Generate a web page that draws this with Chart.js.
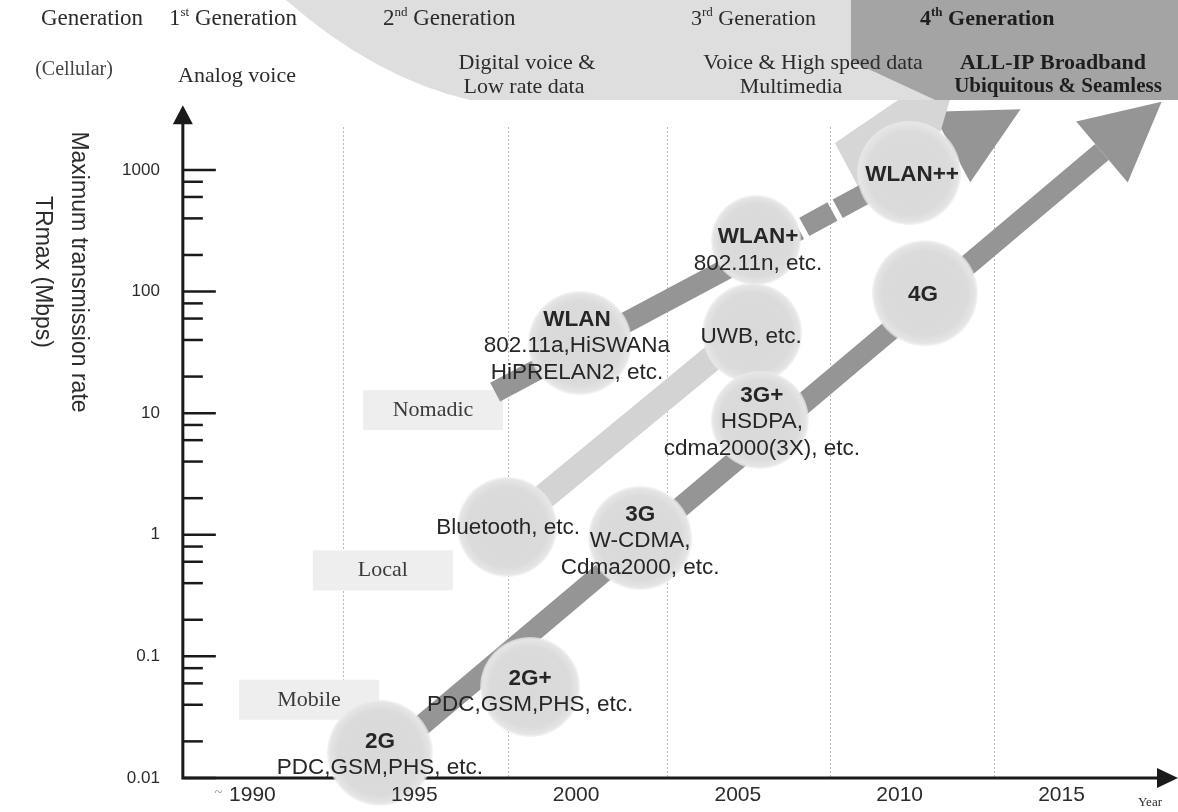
<!DOCTYPE html>
<html>
<head>
<meta charset="utf-8">
<title>TRmax vs year</title>
<script src="https://cdn.jsdelivr.net/npm/chart.js@4.4.1/dist/chart.umd.min.js"></script>
<style>
  html, body { margin: 0; padding: 0; background: #fff; }
  #wrap { position: relative; width: 1178px; height: 812px; }
  #chart { display: block; }
</style>
</head>
<body>
<div id="wrap"><canvas id="chart" width="1178" height="812"></canvas></div>
<script>
// ---- data: x = year, y = maximum transmission rate TRmax (Mbps) ----
const yearTicks = [1990, 1995, 2000, 2005, 2010, 2015];
const yearLabels = ['1990', '1995', '2000', '2005', '2010', '2015'];
const gridYears = [1992.8, 1997.9, 2002.8, 2007.85, 2012.9];
const rateTicks = [0.01, 0.1, 1, 10, 100, 1000];
const rateLabels = ['0.01', '0.1', '1', '10', '100', '1000'];
const minorSteps = [2, 4, 6, 8];

const systemNames = ['2G', '2G+', 'Bluetooth', '3G', 'WLAN', 'UWB', '3G+', 'WLAN+', '4G', 'WLAN++'];
const systemYears = [1993.94, 1998.58, 1997.87, 2001.98, 2000.12, 2005.44, 2005.68, 2005.56, 2010.78, 2010.29];
const systemRates = [0.0161, 0.056, 1.16, 0.94, 37.8, 45.7, 8.8, 265, 97, 944];
const systemLines = [
    ['2G', 'PDC,GSM,PHS, etc.'],
    ['2G+', 'PDC,GSM,PHS, etc.'],
    ['Bluetooth, etc.'],
    ['3G', 'W-CDMA,', 'Cdma2000, etc.'],
    ['WLAN', '802.11a,HiSWANa', 'HiPRELAN2, etc.'],
    ['UWB, etc.'],
    ['3G+', 'HSDPA,', 'cdma2000(3X), etc.'],
    ['WLAN+', '802.11n, etc.'],
    ['4G'],
    ['WLAN++']
];

const classNames = ['Nomadic', 'Local', 'Mobile'];
const classYears = [1995.58, 1994.03, 1991.75];
const classRates = [10.6, 0.51, 0.044];

// arrow shafts (start -> end of shaft)
const mobileYears = [1995.02, 2016.25];
const mobileRates = [0.0243, 1406];
const nomadicYears = [1997.50, 2005.56, 2011.59];
const nomadicRates = [14.9, 207, 1545];
const localYears = [1997.87, 2005.07];
const localRates = [1.16, 44];
const localHeadYears = [2008.0, 2009.95, 2011.55, 2010.63, 2008.77];
const localHeadRates = [1667, 3767, 3767, 566, 685];

const genNumbers = ['1', '2', '3', '4'];
const genSuffix = ['st', 'nd', 'rd', 'th'];
const serviceLines = [
    ['Analog voice'],
    ['Digital voice &', 'Low rate data'],
    ['Voice & High speed data', 'Multimedia'],
    ['ALL-IP Broadband', 'Ubiquitous & Seamless']
];

// ---- layout / style ----
const bubbleRadius = [53, 50, 50, 52, 52, 50, 49, 45, 53, 52];
const labelShift = [[0, 2], [0, 5], [1, 1], [0, 3], [-3, 3], [-1, 4], [2, 2], [2, 10], [-2, 2], [3, 2]];
const SANS = '"Liberation Sans", Arial, sans-serif';
const SERIF = '"Liberation Serif", "Times New Roman", serif';
const INK = '#2b2b2b';
const ARROW = '#959595';

const pts = (xs, ys) => xs.map((x, i) => ({ x, y: ys[i] }));

function px(chart, yr, rate) {
    return [chart.scales.x.getPixelForValue(yr), chart.scales.y.getPixelForValue(rate)];
}

function arrowHead(ctx, chart, years, rates, len, half) {
    const n = years.length;
    const [ax, ay] = px(chart, years[n - 2], rates[n - 2]);
    const [bx, by] = px(chart, years[n - 1], rates[n - 1]);
    const d = Math.hypot(bx - ax, by - ay);
    const ux = (bx - ax) / d, uy = (by - ay) / d;
    ctx.beginPath();
    ctx.moveTo(bx + ux * len, by + uy * len);
    ctx.lineTo(bx - uy * half, by + ux * half);
    ctx.lineTo(bx + uy * half, by - ux * half);
    ctx.closePath();
    ctx.fill();
}

function ordinal(ctx, num, suf, x, y, size, bold) {
    const w0 = bold ? 'bold ' : '';
    ctx.textAlign = 'left';
    ctx.font = `${w0}${size}px ${SERIF}`;
    ctx.fillText(num, x, y);
    let w = ctx.measureText(num).width;
    ctx.font = `${w0}${Math.round(size * 0.58)}px ${SERIF}`;
    ctx.fillText(suf, x + w, y - size * 0.3);
    w += ctx.measureText(suf).width;
    ctx.font = `${w0}${size}px ${SERIF}`;
    ctx.fillText(' Generation', x + w, y);
}

const diagram = {
    id: 'diagram',
    beforeDatasetsDraw(chart) {
        const { ctx } = chart;
        const { x, y } = chart.scales;
        ctx.save();
        ctx.textBaseline = 'middle';

        // header row labels
        ctx.fillStyle = INK;
        ctx.textAlign = 'center';
        ctx.font = `23px ${SERIF}`;
        ctx.fillText('Generation', 92, 19);
        ctx.fillStyle = '#444';
        ctx.font = `20px ${SERIF}`;
        ctx.fillText('(Cellular)', 74, 70);
        ctx.fillStyle = INK;
        ordinal(ctx, genNumbers[0], genSuffix[0], 169, 19, 23, false);

        // 2nd / 3rd generation band
        ctx.fillStyle = '#dedede';
        ctx.beginPath();
        ctx.moveTo(286, 0);
        ctx.lineTo(851, 0);
        ctx.lineTo(851, 61);
        ctx.lineTo(935, 100);
        ctx.lineTo(470, 100);
        ctx.quadraticCurveTo(375, 78, 286, 0);
        ctx.fill();
        // 4th generation band
        ctx.fillStyle = '#a4a4a4';
        ctx.beginPath();
        ctx.moveTo(851, 0);
        ctx.lineTo(1178, 0);
        ctx.lineTo(1178, 100);
        ctx.lineTo(935, 100);
        ctx.lineTo(851, 61);
        ctx.fill();

        ctx.fillStyle = INK;
        ordinal(ctx, genNumbers[1], genSuffix[1], 383, 19, 23, false);
        ordinal(ctx, genNumbers[2], genSuffix[2], 691, 19, 22, false);
        ctx.fillStyle = '#1e1e1e';
        ordinal(ctx, genNumbers[3], genSuffix[3], 920, 19, 22, true);

        ctx.fillStyle = INK;
        ctx.textAlign = 'center';
        ctx.font = `22px ${SERIF}`;
        ctx.fillText(serviceLines[0][0], 237, 76);
        ctx.fillText(serviceLines[1][0], 527, 63);
        ctx.fillText(serviceLines[1][1], 524, 87);
        ctx.fillText(serviceLines[2][0], 813, 63);
        ctx.fillText(serviceLines[2][1], 791, 87);
        ctx.fillStyle = '#1e1e1e';
        ctx.font = `bold 22px ${SERIF}`;
        ctx.fillText(serviceLines[3][0], 1053, 63);
        ctx.font = `bold 21px ${SERIF}`;
        ctx.fillText(serviceLines[3][1], 1058, 87);

        // dotted vertical grid
        const y0 = y.getPixelForValue(0.01);
        ctx.strokeStyle = '#b8b8b8';
        ctx.lineWidth = 1;
        ctx.setLineDash([2, 2]);
        gridYears.forEach(g => {
            const gx = Math.round(x.getPixelForValue(g)) + 0.5;
            ctx.beginPath();
            ctx.moveTo(gx, 127);
            ctx.lineTo(gx, y0);
            ctx.stroke();
        });
        ctx.setLineDash([]);

        // class boxes
        classNames.forEach((name, i) => {
            const [cx, cy] = px(chart, classYears[i], classRates[i]);
            ctx.fillStyle = '#eeeeee';
            ctx.fillRect(cx - 70, cy - 20, 140, 40);
            ctx.fillStyle = '#3a3a3a';
            ctx.textAlign = 'center';
            ctx.font = `22px ${SERIF}`;
            ctx.fillText(name, cx, cy);
        });

        // axes
        const ax = x.getPixelForValue(1987.85);
        const top = y.getPixelForValue(3400);
        const right = x.getPixelForValue(2018.6);
        ctx.strokeStyle = '#1a1a1a';
        ctx.fillStyle = '#1a1a1a';
        ctx.lineWidth = 3;
        ctx.beginPath();
        ctx.moveTo(ax, top + 12);
        ctx.lineTo(ax, y0);
        ctx.lineTo(right - 12, y0);
        ctx.stroke();
        ctx.beginPath();
        ctx.moveTo(ax, top);
        ctx.lineTo(ax - 10, top + 19);
        ctx.lineTo(ax + 10, top + 19);
        ctx.fill();
        ctx.beginPath();
        ctx.moveTo(right, y0);
        ctx.lineTo(right - 21, y0 - 10);
        ctx.lineTo(right - 21, y0 + 10);
        ctx.fill();

        // ticks, inside the axis
        ctx.lineWidth = 2.5;
        rateTicks.forEach((t, i) => {
            const ty = y.getPixelForValue(t);
            ctx.beginPath();
            ctx.moveTo(ax, ty);
            ctx.lineTo(ax + 33, ty);
            ctx.stroke();
            if (i < rateTicks.length - 1) {
                minorSteps.forEach(m => {
                    const my = y.getPixelForValue(t * m);
                    ctx.beginPath();
                    ctx.moveTo(ax, my);
                    ctx.lineTo(ax + 20, my);
                    ctx.stroke();
                });
            }
        });
        ctx.fillStyle = INK;
        ctx.textAlign = 'right';
        ctx.font = `17px ${SANS}`;
        rateLabels.forEach((l, i) => ctx.fillText(l, ax - 23, y.getPixelForValue(rateTicks[i])));

        // y axis titles
        ctx.textAlign = 'center';
        ctx.save();
        ctx.translate(78, 272);
        ctx.rotate(Math.PI / 2);
        ctx.font = `23px ${SANS}`;
        ctx.fillText('Maximum transmission rate', 0, 0);
        ctx.restore();
        ctx.save();
        ctx.translate(42, 272);
        ctx.rotate(Math.PI / 2);
        ctx.font = `23px ${SANS}`;
        ctx.fillText('TRmax (Mbps)', 0, 0);
        ctx.restore();

        // arrowheads (under the bubbles)
        ctx.fillStyle = ARROW;
        arrowHead(ctx, chart, mobileYears, mobileRates, 78, 40);
        arrowHead(ctx, chart, nomadicYears, nomadicRates, 79, 40);
        ctx.fillStyle = '#d6d6d6';
        ctx.beginPath();
        localHeadYears.forEach((yr, i) => {
            const [hx, hy] = px(chart, yr, localHeadRates[i]);
            if (i === 0) ctx.moveTo(hx, hy); else ctx.lineTo(hx, hy);
        });
        ctx.closePath();
        ctx.fill();
        ctx.restore();
    },
    afterDatasetsDraw(chart) {
        const { ctx } = chart;
        const { x } = chart.scales;
        ctx.save();
        ctx.textAlign = 'center';
        ctx.textBaseline = 'middle';
        ctx.fillStyle = '#262626';
        const lh = 26.5;
        systemLines.forEach((lines, i) => {
            const [cx, cy] = px(chart, systemYears[i], systemRates[i]);
            const bx = cx + labelShift[i][0];
            const by = cy + labelShift[i][1] - (lines.length - 1) * lh / 2;
            lines.forEach((t, k) => {
                const first = k === 0 && lines.length > 1;
                ctx.font = `${first || lines.length === 1 && i > 7 ? 'bold ' : ''}22.5px ${SANS}`;
                ctx.fillText(t, bx, by + k * lh);
            });
        });

        // year labels sit on top of the 2G bubble
        ctx.fillStyle = INK;
        ctx.font = `21px ${SANS}`;
        yearLabels.forEach((l, i) => ctx.fillText(l, x.getPixelForValue(yearTicks[i]), 795));
        ctx.fillStyle = '#888';
        ctx.font = `14px ${SERIF}`;
        ctx.fillText('~', x.getPixelForValue(yearTicks[0]) - 34, 793);
        ctx.fillStyle = INK;
        ctx.font = `13px ${SERIF}`;
        ctx.fillText('Year', 1150, 803);
        ctx.restore();
    }
};

function bubbleFill(context) {
    const chart = context.chart;
    if (context.type !== 'data' || !chart.chartArea) return '#dadada';
    const i = context.dataIndex;
    const [cx, cy] = px(chart, systemYears[i], systemRates[i]);
    const r = bubbleRadius[i];
    const g = chart.ctx.createRadialGradient(cx, cy, 0, cx, cy, r);
    g.addColorStop(0, '#d9d9d9');
    g.addColorStop(0.8, '#dbdbdb');
    g.addColorStop(0.95, '#e5e5e5');
    g.addColorStop(1, 'rgba(238,238,238,0.6)');
    return g;
}

const shaft = (data, color, width, extra) => Object.assign({
    type: 'line',
    data,
    borderColor: color,
    borderWidth: width,
    borderCapStyle: 'butt',
    pointRadius: 0,
    pointHoverRadius: 0,
    fill: false,
    tension: 0,
    order: 1
}, extra || {});

new Chart(document.getElementById('chart'), {
    type: 'scatter',
    data: {
        datasets: [
            {
                label: 'systems',
                data: pts(systemYears, systemRates),
                pointRadius: bubbleRadius,
                pointHoverRadius: bubbleRadius,
                backgroundColor: bubbleFill,
                borderWidth: 0,
                clip: false,
                order: 0
            },
            shaft(pts(mobileYears, mobileRates), ARROW, 21),
            shaft(pts(nomadicYears.slice(0, 2), nomadicRates.slice(0, 2)), ARROW, 21),
            shaft(pts(nomadicYears.slice(1), nomadicRates.slice(1)), ARROW, 21, { borderDash: [32, 6], borderDashOffset: 21 }),
            shaft(pts(localYears, localRates), '#d3d3d3', 26)
        ]
    },
    options: {
        responsive: false,
        devicePixelRatio: 1,
        animation: false,
        events: [],
        layout: { padding: 0, autoPadding: false },
        plugins: { legend: { display: false }, tooltip: { enabled: false } },
        scales: {
            x: { type: 'linear', min: 1982.2, max: 2018.6, display: false },
            y: { type: 'logarithmic', min: 0.00525, max: 25000, display: false }
        }
    },
    plugins: [diagram]
});
</script>
</body>
</html>
